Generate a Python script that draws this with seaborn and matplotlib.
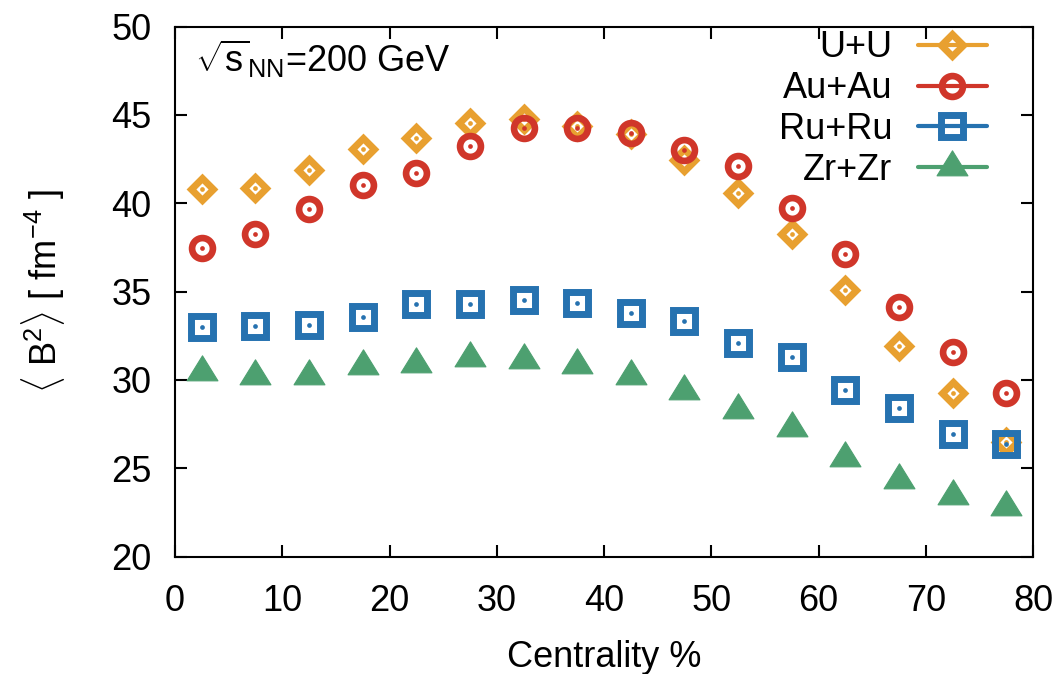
import numpy as np
import pandas as pd
import matplotlib
matplotlib.use("Agg")
import matplotlib.pyplot as plt
from matplotlib.lines import Line2D
from matplotlib.path import Path
import seaborn as sns

# Centrality bins (bin centres, %)
centrality = [2.5, 7.5, 12.5, 17.5, 22.5, 27.5, 32.5, 37.5,
              42.5, 47.5, 52.5, 57.5, 62.5, 67.5, 72.5, 77.5]

# <B^2> in fm^-4 for each collision system
b2_uu = [40.83, 40.89, 41.90, 43.10, 43.68, 44.55, 44.76, 44.38,
         43.90, 42.45, 40.57, 38.27, 35.10, 31.93, 29.25, 26.50]
b2_auau = [37.45, 38.25, 39.70, 41.02, 41.74, 43.25, 44.28, 44.28,
           43.96, 43.02, 42.13, 39.72, 37.13, 34.15, 31.60, 29.28]
b2_ruru = [33.02, 33.06, 33.10, 33.55, 34.29, 34.29, 34.55, 34.38,
           33.78, 33.36, 32.11, 31.29, 29.43, 28.42, 26.95, 26.38]
b2_zrzr = [30.47, 30.23, 30.23, 30.80, 30.90, 31.23, 31.10, 30.86,
           30.23, 29.40, 28.30, 27.27, 25.57, 24.34, 23.44, 22.80]

systems = ["U+U", "Au+Au", "Ru+Ru", "Zr+Zr"]
x_ticks = [0, 10, 20, 30, 40, 50, 60, 70, 80]
y_ticks = [20, 25, 30, 35, 40, 45, 50]

sns.set_theme(style="ticks")
plt.rcParams["font.family"] = ["Liberation Sans", "DejaVu Sans"]
plt.rcParams["mathtext.fontset"] = "custom"
plt.rcParams["mathtext.rm"] = "Liberation Sans"
plt.rcParams["mathtext.it"] = "Liberation Sans:italic"
plt.rcParams["mathtext.bf"] = "Liberation Sans:bold"
plt.rcParams["text.color"] = "black"
plt.rcParams["axes.labelcolor"] = "black"
plt.rcParams["xtick.color"] = "black"
plt.rcParams["ytick.color"] = "black"

FS = 26

# Triangle centred on its centroid
tri = Path([(0, 0.54), (-0.5, -0.27), (0.5, -0.27), (0, 0.54)],
           [Path.MOVETO, Path.LINETO, Path.LINETO, Path.CLOSEPOLY])

colors = {"U+U": "#E8A030", "Au+Au": "#D0362A",
          "Ru+Ru": "#2672B0", "Zr+Zr": "#4DA070"}
styles = {
    "U+U": dict(marker="D", markersize=10.8, markeredgewidth=5.0,
                markerfacecolor="none"),
    "Au+Au": dict(marker="o", markersize=15, markeredgewidth=4.8,
                  markerfacecolor="none"),
    "Ru+Ru": dict(marker="s", markersize=15.5, markeredgewidth=5.0,
                  markerfacecolor="none"),
    "Zr+Zr": dict(marker=tri, markersize=24, markeredgewidth=0.8,
                  markerfacecolor=None),
}

frames = []
for name, vals in zip(systems, [b2_uu, b2_auau, b2_ruru, b2_zrzr]):
    frames.append(pd.DataFrame({"centrality": centrality, "B2": vals,
                                "system": name}))
df = pd.concat(frames, ignore_index=True)

fig = plt.figure(figsize=(10.61, 6.74), dpi=100)
ax = fig.add_axes([0.165, 0.1743, 0.8086, 0.7861])

for name in systems:
    sub = df[df["system"] == name]
    c = colors[name]
    st = dict(styles[name])
    if st["markerfacecolor"] is None:
        st["markerfacecolor"] = c
    sns.lineplot(data=sub, x="centrality", y="B2", ax=ax, color=c,
                 linestyle="", markeredgecolor=c, errorbar=None,
                 sort=False, legend=False, **st)
    if name != "Zr+Zr":
        sns.lineplot(data=sub, x="centrality", y="B2", ax=ax, color=c,
                     linestyle="", marker="o", markersize=3.4,
                     markeredgewidth=0, errorbar=None, sort=False,
                     legend=False)

ax.set_xlim(0, 80)
ax.set_ylim(20, 50)
ax.set_xticks(x_ticks)
ax.set_yticks(y_ticks)
ax.tick_params(axis="both", direction="in", length=8.5, width=1.5,
               labelsize=FS, top=True, right=True, colors="black")
ax.tick_params(axis="y", pad=17)
ax.tick_params(axis="x", pad=20)
for sp in ax.spines.values():
    sp.set_linewidth(1.5)
    sp.set_color("black")
    sp.set_visible(True)

ax.set_xlabel("Centrality %", fontsize=FS, labelpad=15)
ax.set_ylabel(r"$\langle$ B$^2$$\rangle$ [ fm$^{-4}$ ]", fontsize=FS,
              labelpad=32)

ax.text(0.023, 0.915, r"$\sqrt{\mathrm{s}}_{\mathrm{NN}}$=200 GeV",
        transform=ax.transAxes, fontsize=FS, ha="left", va="baseline")

handles = []
for name in systems:
    c = colors[name]
    st = dict(styles[name])
    if st["markerfacecolor"] is None:
        st["markerfacecolor"] = c
    handles.append(Line2D([], [], color=c, linewidth=3,
                          markeredgecolor=c, **st))
ax.legend(handles, systems, loc="upper right",
          bbox_to_anchor=(0.946, 0.993), frameon=False, markerfirst=False,
          fontsize=FS, handlelength=1.9, handletextpad=0.72,
          labelspacing=0.16, borderpad=0.0, borderaxespad=0)

fig.savefig("out.png", dpi=100, facecolor="white")
